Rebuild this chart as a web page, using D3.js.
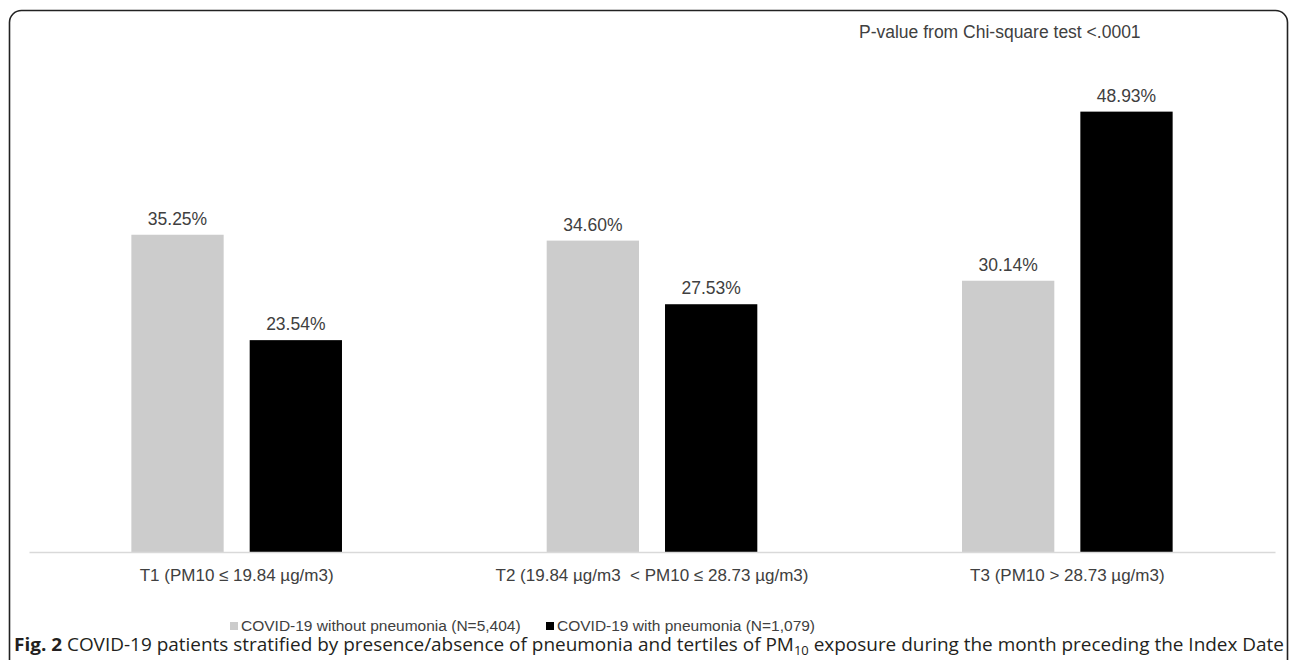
<!DOCTYPE html>
<html>
<head>
<meta charset="utf-8">
<script src="https://cdn.jsdelivr.net/npm/d3@7/dist/d3.min.js"></script>
<style>
  html, body { margin: 0; padding: 0; background: #fff; }
  svg { display: block; }
</style>
</head>
<body>
<svg id="chart" width="1293" height="660"></svg>
<script>
const categories = [
  "T1 (PM10 \u2264 19.84 \u00b5g/m3)",
  "T2 (19.84 \u00b5g/m3 \u00a0< PM10 \u2264 28.73 \u00b5g/m3)",
  "T3 (PM10 > 28.73 \u00b5g/m3)"
];
const seriesNames = [
  "COVID-19 without pneumonia (N=5,404)",
  "COVID-19 with pneumonia (N=1,079)"
];
const withoutPneumonia = [35.25, 34.60, 30.14];
const withPneumonia = [23.54, 27.53, 48.93];
const seriesColors = ["#cccccc", "#000000"];
const pValueNote = "P-value from Chi-square test <.0001";

const svg = d3.select("#chart");

// frame
svg.append("rect")
  .attr("x", 9.5).attr("y", 10.5)
  .attr("width", 1278).attr("height", 700)
  .attr("rx", 12).attr("ry", 12)
  .attr("fill", "none").attr("stroke", "#222").attr("stroke-width", 1.6);

const plot = { left: 29, right: 1275, top: 57, bottom: 552 };

const x0 = d3.scaleBand().domain(categories)
  .range([plot.left, plot.right]).paddingInner(0).paddingOuter(0);
const x1 = d3.scaleBand().domain(seriesNames)
  .range([0, x0.bandwidth()]).paddingInner(0.22).paddingOuter(0.865);
const y = d3.scaleLinear().domain([0, 55]).range([plot.bottom, plot.top]);

const rows = categories.map((c, i) => ({
  cat: c,
  vals: [withoutPneumonia[i], withPneumonia[i]]
}));

const font = "Liberation Sans, Arial, sans-serif";
const textColor = "#404040";

const g = svg.append("g");
const groups = g.selectAll("g.grp").data(rows).join("g")
  .attr("class", "grp")
  .attr("transform", d => `translate(${x0(d.cat)},0)`);

groups.selectAll("rect").data(d => d.vals.map((v, j) => ({ s: seriesNames[j], v, j })))
  .join("rect")
  .attr("x", d => x1(d.s))
  .attr("y", d => y(d.v))
  .attr("width", x1.bandwidth())
  .attr("height", d => y(0) - y(d.v))
  .attr("fill", d => seriesColors[d.j]);

groups.selectAll("text.val").data(d => d.vals.map((v, j) => ({ s: seriesNames[j], v, j })))
  .join("text")
  .attr("class", "val")
  .attr("x", d => x1(d.s) + x1.bandwidth() / 2)
  .attr("y", d => y(d.v) - 10)
  .attr("text-anchor", "middle")
  .attr("font-family", font)
  .attr("font-size", 17.5)
  .attr("fill", textColor)
  .text(d => d.v.toFixed(2) + "%");

// x axis
const xAxis = d3.axisBottom(x0).tickSize(0).tickPadding(0);
const ax = svg.append("g").attr("transform", `translate(0,${plot.bottom})`).call(xAxis);
ax.select(".domain").attr("stroke", "#d9d9d9").attr("stroke-width", 1.3);
ax.selectAll(".tick text")
  .attr("y", 29)
  .attr("dy", 0)
  .attr("font-family", font)
  .attr("font-size", 17)
  .attr("fill", textColor);

// p-value note
svg.append("text")
  .attr("x", 859).attr("y", 38)
  .attr("font-family", font)
  .attr("font-size", 17.5)
  .attr("fill", textColor)
  .text(pValueNote);

// legend
const legendPos = [230, 546];
const lg = svg.append("g");
seriesNames.forEach((s, i) => {
  lg.append("rect").attr("x", legendPos[i]).attr("y", 622)
    .attr("width", 8).attr("height", 8).attr("fill", seriesColors[i]);
  lg.append("text").attr("x", legendPos[i] + 11).attr("y", 631)
    .attr("font-family", font)
    .attr("font-size", 15.5).attr("fill", textColor).text(s);
});

// caption
const cap = svg.append("text")
  .attr("x", 14).attr("y", 651)
  .attr("font-family", "Open Sans, Noto Sans, sans-serif")
  .attr("font-size", 17.5)
  .attr("fill", "#231f20")
  .attr("textLength", 1270).attr("lengthAdjust", "spacingAndGlyphs");
cap.append("tspan").attr("font-weight", "bold").text("Fig. 2");
cap.append("tspan").text(" COVID-19 patients stratified by presence/absence of pneumonia and tertiles of PM");
cap.append("tspan").attr("font-size", 12).attr("dy", 4).text("10");
cap.append("tspan").attr("dy", -4).text(" exposure during the month preceding the Index Date");
</script>
</body>
</html>
